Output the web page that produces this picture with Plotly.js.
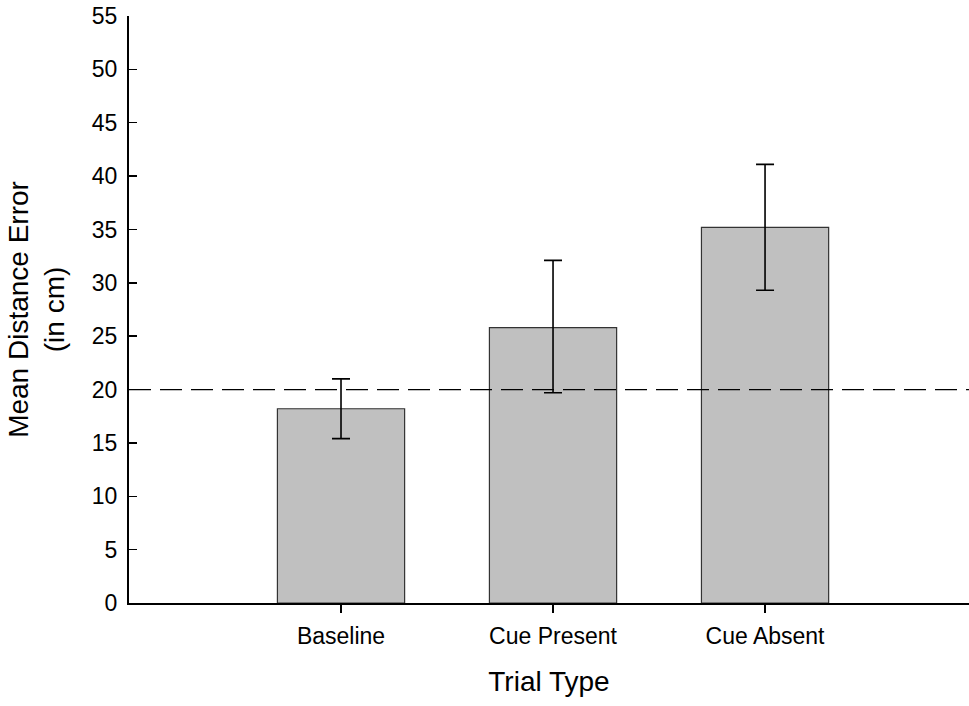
<!DOCTYPE html>
<html>
<head>
<meta charset="utf-8">
<script src="https://cdn.plot.ly/plotly-3.0.1.min.js"></script>
<style>html,body{margin:0;padding:0;background:#fff;}#chart{width:969px;height:706px;}</style>
</head>
<body>
<div id="chart"></div>
<script>
const categories = ["Baseline", "Cue Present", "Cue Absent"];
const meanError = [18.2, 25.8, 35.2];
const errPlus = [2.8, 6.3, 5.9];
const errMinus = [2.8, 6.1, 5.9];
const referenceLevel = 20;
const yTicks = [0, 5, 10, 15, 20, 25, 30, 35, 40, 45, 50, 55];

const xPos = categories.map((c, i) => i);

const trace = {
  type: "bar",
  x: xPos,
  y: meanError,
  width: 0.6,
  marker: { color: "#c0c0c0", line: { color: "#333333", width: 1.2 } },
  error_y: {
    type: "data", symmetric: false,
    array: errPlus, arrayminus: errMinus,
    color: "#000000", thickness: 1.6, width: 9
  },
  hoverinfo: "skip"
};

const font = "Liberation Sans, Arial, sans-serif";

const layout = {
  width: 969, height: 706,
  margin: { l: 129, r: 0, t: 16, b: 103 },
  paper_bgcolor: "#ffffff", plot_bgcolor: "#ffffff",
  showlegend: false,
  font: { family: font, color: "#000000", size: 23 },
  xaxis: {
    range: [-1, 2.962],
    tickmode: "array", tickvals: xPos, ticktext: categories,
    ticks: "outside", ticklen: 8, tickwidth: 1.5, tickcolor: "#000",
    ticklabelstandoff: 3,
    showline: true, linecolor: "#000", linewidth: 2,
    showgrid: false, zeroline: false,
    tickfont: { size: 23, family: font },
    title: { text: "Trial Type", font: { size: 28, family: font }, standoff: 24 },
    automargin: false
  },
  yaxis: {
    range: [0, 55],
    tickmode: "array", tickvals: yTicks,
    ticks: "inside", ticklen: 8, tickwidth: 1.5, tickcolor: "#000",
    ticklabelstandoff: 5,
    showline: true, linecolor: "#000", linewidth: 2,
    showgrid: false, zeroline: false,
    tickfont: { size: 23, family: font },
    title: { text: "Mean Distance Error<br>(in cm)", font: { size: 28, family: font }, standoff: 19 },
    automargin: false
  },
  shapes: [{
    type: "line", xref: "paper", x0: 0, x1: 1, yref: "y", y0: referenceLevel, y1: referenceLevel,
    line: { color: "#000", width: 1.3, dash: "22px,9px" }, layer: "above"
  }]
};

Plotly.newPlot("chart", [trace], layout, { staticPlot: true, displayModeBar: false });
</script>
</body>
</html>
